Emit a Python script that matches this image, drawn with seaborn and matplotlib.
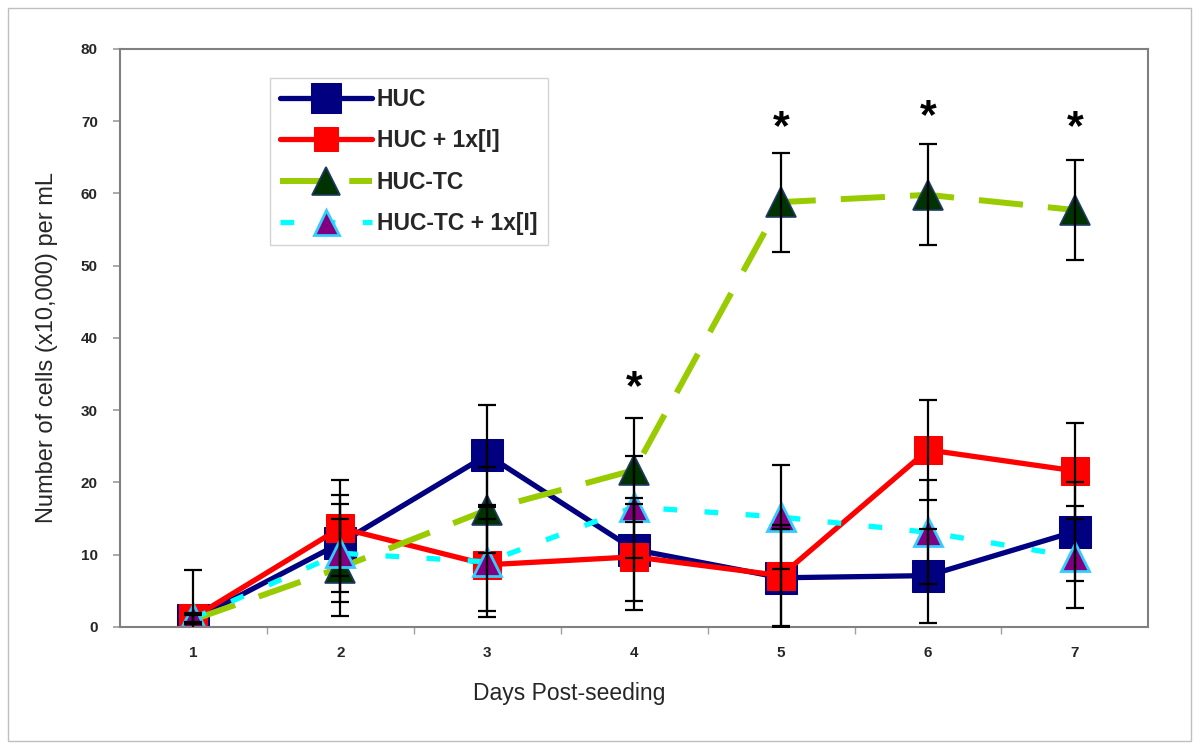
import matplotlib
matplotlib.use("Agg")
import matplotlib.pyplot as plt
from matplotlib.patches import Rectangle
import seaborn as sns
import pandas as pd

# data (cells x10,000 per mL)
days = [1, 2, 3, 4, 5, 6, 7]
huc = [1.0, 11.6, 23.8, 10.7, 6.8, 7.1, 13.2]
huc_err = [6.9, 6.7, 6.9, 7.1, 6.8, 6.5, 6.9]
huc_i = [1.3, 13.7, 8.6, 9.7, 7.1, 24.5, 21.6]
huc_i_err = [0.6, 6.6, 6.4, 7.3, 7.0, 6.9, 6.6]
huc_tc = [1.0, 8.2, 16.2, 21.7, 58.8, 59.8, 57.7]
huc_tc_err = [0.6, 6.7, 6.0, 7.2, 6.85, 7.0, 6.9]
huc_tc_i = [1.2, 10.2, 9.0, 16.6, 15.2, 13.1, 9.7]
huc_tc_i_err = [0.6, 6.8, 7.6, 7.1, 7.2, 7.2, 7.1]

star_days = [4, 5, 6, 7]
star_y = [33.0, 69.0, 70.6, 69.0]

series_names = ["HUC", "HUC + 1x[I]", "HUC-TC", "HUC-TC + 1x[I]"]

sns.set_theme(style="white")
plt.rcParams["font.family"] = ["Liberation Sans", "DejaVu Sans"]

fig = plt.figure(figsize=(12, 7.49), dpi=100)
ax = fig.add_axes([0.1, 0.163, 0.857, 0.7717])

styles = [
    dict(color="#000080", marker="s", markersize=23.5, markerfacecolor="#000080",
         markeredgecolor="#000080", linewidth=3.8, linestyle="-"),
    dict(color="#FF0000", marker="s", markersize=19.5, markerfacecolor="#FF0000",
         markeredgecolor="#FF0000", linewidth=3.8, linestyle="-"),
    dict(color="#99CC00", marker="^", markersize=22, markerfacecolor="#003300",
         markeredgecolor="#1F3864", markeredgewidth=1.2, linewidth=4.3,
         linestyle=(0, (7.4, 4.2))),
    dict(color="#00FFFF", marker="^", markersize=20, markerfacecolor="#800080",
         markeredgecolor="#33CCFF", markeredgewidth=2, linewidth=3.8,
         linestyle=(0, (2.6, 5.2))),
]
values = [huc, huc_i, huc_tc, huc_tc_i]
errors = [huc_err, huc_i_err, huc_tc_err, huc_tc_i_err]

for name, vals, st in zip(series_names, values, styles):
    df = pd.DataFrame({"day": days, "cells": vals})
    sns.lineplot(data=df, x="day", y="cells", ax=ax, label=name, **st)

for vals, err in zip(values, errors):
    ax.errorbar(days, vals, yerr=err, fmt="none", ecolor="black",
                elinewidth=1.6, capsize=6.5, capthick=1.6, zorder=5)

for d, s in zip(star_days, star_y):
    ax.text(d, s, "*", ha="center", va="center", fontsize=31,
            fontweight="bold", color="black")

ax.set_xlim(0.5, 7.5)
ax.set_ylim(0, 80)
ax.set_xticks(days)
ax.set_xticks([1.5, 2.5, 3.5, 4.5, 5.5, 6.5], minor=True)
ax.set_yticks(range(0, 81, 10))
ax.tick_params(axis="x", which="major", length=0, pad=14, labelsize=11)
ax.tick_params(axis="x", which="minor", length=5, color="#a0a0a0",
               direction="out", bottom=True)
ax.tick_params(axis="y", length=5, color="#a0a0a0", direction="out",
               left=True, pad=11, labelsize=11)
for lab in ax.get_xticklabels() + ax.get_yticklabels():
    lab.set_fontweight("bold")

for sp in ax.spines.values():
    sp.set_color("#808080")
    sp.set_linewidth(1.5)

ax.set_xlabel("Days Post-seeding", fontsize=16.5, labelpad=16)
ax.xaxis.set_label_coords(0.437, -0.095)
ax.set_ylabel("Number of cells (x10,000) per mL", fontsize=17)
ax.yaxis.set_label_coords(-0.060, 0.484)

leg = ax.legend(loc="upper left", bbox_to_anchor=(0.146, 0.95),
                prop={"weight": "bold", "size": 16.5}, handlelength=4.0,
                labelspacing=0.8, frameon=True, fancybox=False,
                borderpad=0.45, borderaxespad=0, handletextpad=0.2,
                markerscale=0.9)
leg.get_frame().set_edgecolor("#c8c8c8")
leg.get_frame().set_linewidth(1.0)

fig.patches.append(Rectangle((8 / 1200, 8 / 749), 1183 / 1200, 733 / 749,
                             transform=fig.transFigure, fill=False,
                             edgecolor="#bfbfbf", linewidth=1.0))

fig.savefig("out.png", dpi=100, facecolor="white")
